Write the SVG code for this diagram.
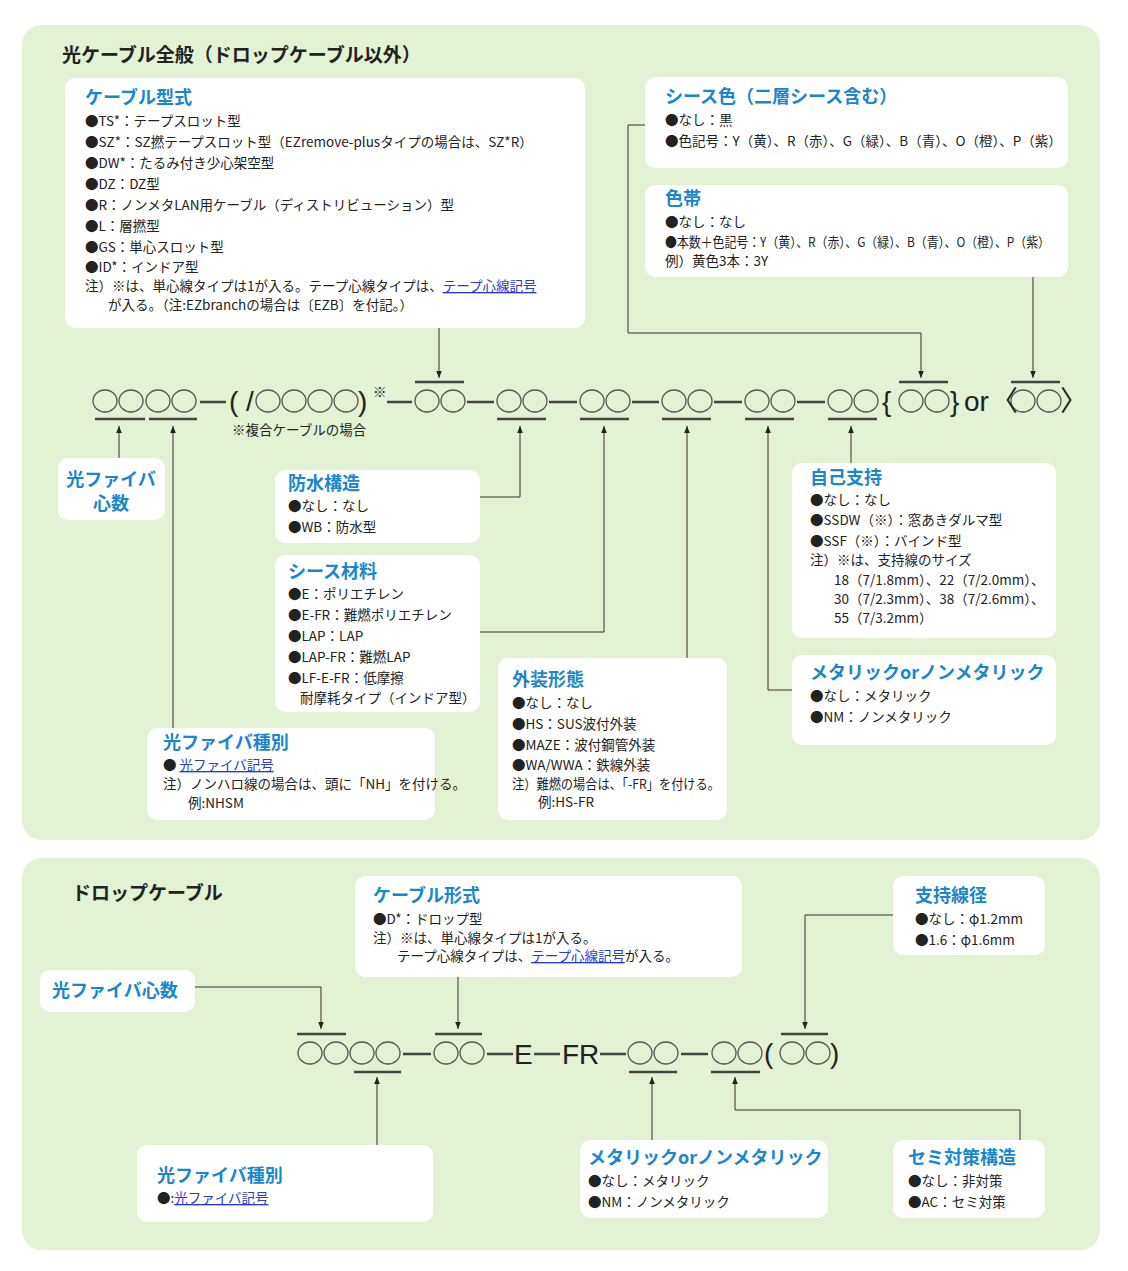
<svg xmlns="http://www.w3.org/2000/svg" width="1128" height="1271" viewBox="0 0 1128 1271">
<defs>
<style>
.panel{fill:#e3f1d4}
.box{fill:#fff}
.h{font-family:"Noto Sans CJK JP","Noto Sans",sans-serif;font-weight:bold;font-size:18px;fill:#1a86cc}
.t{font-family:"Noto Sans CJK JP","Noto Sans",sans-serif;font-size:13.5px;fill:#222}
.lk{fill:#2a3ad0;text-decoration:underline}
.ti{font-family:"Noto Sans CJK JP","Noto Sans",sans-serif;font-weight:bold;font-size:19px;fill:#222}
.c{fill:none;stroke:#555;stroke-width:1.3}
.bar{stroke:#444;stroke-width:2.5}
.sym{font-family:"Liberation Sans","Noto Sans CJK JP",sans-serif;font-size:28px;fill:#222}
.ln{fill:none;stroke:#333;stroke-width:1}
</style>
<marker id="ar" viewBox="0 0 10 10" refX="10" refY="5" markerWidth="7" markerHeight="9" orient="auto"><path d="M0,1 L10,5 L0,9 z" fill="#222"/></marker>
</defs>
<rect class="panel" x="22" y="25" width="1078" height="815" rx="20"/>
<rect class="panel" x="22" y="858" width="1078" height="392" rx="20"/>
<text class="ti" x="62" y="62">光ケーブル全般（ドロップケーブル以外）</text>
<text class="ti" x="72" y="900">ドロップケーブル</text>

<g id="cable-type"><rect class="box" x="65" y="78" width="520" height="250" rx="10"/>
<text class="h" x="85" y="104">ケーブル型式</text>
<text class="t" x="85" y="126">●TS*：テープスロット型</text>
<text class="t" x="85" y="147">●SZ*：SZ撚テープスロット型（EZremove-plusタイプの場合は、SZ*R）</text>
<text class="t" x="85" y="168">●DW*：たるみ付き少心架空型</text>
<text class="t" x="85" y="189">●DZ：DZ型</text>
<text class="t" x="85" y="210">●R：ノンメタLAN用ケーブル（ディストリビューション）型</text>
<text class="t" x="85" y="231">●L：層撚型</text>
<text class="t" x="85" y="252">●GS：単心スロット型</text>
<text class="t" x="85" y="272">●ID*：インドア型</text>
<text class="t" x="85" y="291" font-size="12">注）※は、単心線タイプは1が入る。テープ心線タイプは、<tspan class="lk">テープ心線記号</tspan></text>
<text class="t" x="108" y="310" font-size="12">が入る。（注:EZbranchの場合は〔EZB〕を付記。）</text></g>

<g id="sheath-color"><rect class="box" x="645" y="77" width="423" height="91" rx="10"/>
<text class="h" x="665" y="103">シース色（二層シース含む）</text>
<text class="t" x="665" y="125">●なし：黒</text>
<text class="t" x="665" y="146">●色記号：Y（黄）、R（赤）、G（緑）、B（青）、O（橙）、P（紫）</text></g>

<g id="color-band"><rect class="box" x="645" y="185" width="423" height="92" rx="10"/>
<text class="h" x="665" y="205">色帯</text>
<text class="t" x="665" y="227">●なし：なし</text>
<text class="t" x="665" y="247" textLength="385" lengthAdjust="spacingAndGlyphs">●本数＋色記号：Y（黄）、R（赤）、G（緑）、B（青）、O（橙）、P（紫）</text>
<text class="t" x="665" y="266">例）黄色3本：3Y</text></g>

<g id="fiber-count"><rect class="box" x="58" y="458" width="107" height="62" rx="10"/>
<text class="h" x="111" y="486" text-anchor="middle">光ファイバ</text>
<text class="h" x="111" y="510" text-anchor="middle">心数</text></g>

<g id="waterproof"><rect class="box" x="275" y="470" width="205" height="73" rx="10"/>
<text class="h" x="288" y="490">防水構造</text>
<text class="t" x="288" y="511">●なし：なし</text>
<text class="t" x="288" y="532">●WB：防水型</text></g>

<g id="sheath-material"><rect class="box" x="275" y="555" width="205" height="157" rx="10"/>
<text class="h" x="288" y="578">シース材料</text>
<text class="t" x="288" y="599">●E：ポリエチレン</text>
<text class="t" x="288" y="620">●E-FR：難燃ポリエチレン</text>
<text class="t" x="288" y="641">●LAP：LAP</text>
<text class="t" x="288" y="662">●LAP-FR：難燃LAP</text>
<text class="t" x="288" y="683">●LF-E-FR：低摩擦</text>
<text class="t" x="300" y="703">耐摩耗タイプ（インドア型）</text></g>

<g id="fiber-type"><rect class="box" x="147" y="728" width="288" height="92" rx="10"/>
<text class="h" x="163" y="749">光ファイバ種別</text>
<text class="t" x="163" y="770">● <tspan class="lk">光ファイバ記号</tspan></text>
<text class="t" x="163" y="789" font-size="12.5">注）ノンハロ線の場合は、頭に「NH」を付ける。</text>
<text class="t" x="188" y="808" font-size="12.5">例:NHSM</text></g>

<g id="armor"><rect class="box" x="498" y="658" width="229" height="162" rx="10"/>
<text class="h" x="512" y="686">外装形態</text>
<text class="t" x="512" y="708">●なし：なし</text>
<text class="t" x="512" y="729">●HS：SUS波付外装</text>
<text class="t" x="512" y="750">●MAZE：波付鋼管外装</text>
<text class="t" x="512" y="770">●WA/WWA：鉄線外装</text>
<text class="t" x="512" y="789" font-size="12.5" textLength="208" lengthAdjust="spacingAndGlyphs">注）難燃の場合は、「-FR」を付ける。</text>
<text class="t" x="538" y="807" font-size="12.5">例:HS-FR</text></g>

<g id="self-support"><rect class="box" x="792" y="463" width="264" height="175" rx="10"/>
<text class="h" x="810" y="484">自己支持</text>
<text class="t" x="810" y="505">●なし：なし</text>
<text class="t" x="810" y="525">●SSDW（※）：窓あきダルマ型</text>
<text class="t" x="810" y="546">●SSF（※）：バインド型</text>
<text class="t" x="810" y="565" font-size="12.5">注）※は、支持線のサイズ</text>
<text class="t" x="834" y="585" font-size="12.5">18（7/1.8mm）、22（7/2.0mm）、</text>
<text class="t" x="834" y="604" font-size="12.5">30（7/2.3mm）、38（7/2.6mm）、</text>
<text class="t" x="834" y="623" font-size="12.5">55（7/3.2mm）</text></g>

<g id="metallic"><rect class="box" x="792" y="655" width="264" height="90" rx="10"/>
<text class="h" x="810" y="679">メタリックorノンメタリック</text>
<text class="t" x="810" y="701">●なし：メタリック</text>
<text class="t" x="810" y="722">●NM：ノンメタリック</text></g>

<g id="drop-cable-type"><rect class="box" x="355" y="876" width="387" height="101" rx="10"/>
<text class="h" x="373" y="902">ケーブル形式</text>
<text class="t" x="373" y="924">●D*：ドロップ型</text>
<text class="t" x="373" y="943" font-size="12.5">注）※は、単心線タイプは1が入る。</text>
<text class="t" x="397" y="961" font-size="12.5">テープ心線タイプは、<tspan class="lk">テープ心線記号</tspan>が入る。</text></g>

<g id="support-wire"><rect class="box" x="893" y="876" width="152" height="79" rx="10"/>
<text class="h" x="915" y="902">支持線径</text>
<text class="t" x="915" y="924">●なし：φ1.2mm</text>
<text class="t" x="915" y="945">●1.6：φ1.6mm</text></g>

<g id="drop-fiber-count"><rect class="box" x="40" y="970" width="155" height="42" rx="10"/>
<text class="h" x="52" y="997">光ファイバ心数</text></g>

<g id="drop-fiber-type"><rect class="box" x="137" y="1145" width="296" height="77" rx="10"/>
<text class="h" x="157" y="1182">光ファイバ種別</text>
<text class="t" x="157" y="1203">●:<tspan class="lk">光ファイバ記号</tspan></text></g>

<g id="drop-metallic"><rect class="box" x="580" y="1140" width="248" height="78" rx="10"/>
<text class="h" x="588" y="1164">メタリックorノンメタリック</text>
<text class="t" x="588" y="1186">●なし：メタリック</text>
<text class="t" x="588" y="1207">●NM：ノンメタリック</text></g>

<g id="semi"><rect class="box" x="893" y="1140" width="152" height="78" rx="10"/>
<text class="h" x="908" y="1164">セミ対策構造</text>
<text class="t" x="908" y="1186">●なし：非対策</text>
<text class="t" x="908" y="1207">●AC：セミ対策</text></g>

<g id="code-top">
<g class="c"><ellipse cx="105" cy="401" rx="12" ry="11"/><ellipse cx="131" cy="401" rx="12" ry="11"/><ellipse cx="158" cy="401" rx="12" ry="11"/><ellipse cx="184" cy="401" rx="12" ry="11"/>
<ellipse cx="268" cy="401" rx="12" ry="11"/><ellipse cx="294" cy="401" rx="12" ry="11"/><ellipse cx="320" cy="401" rx="12" ry="11"/><ellipse cx="346" cy="401" rx="12" ry="11"/>
<ellipse cx="427" cy="401" rx="12" ry="11"/><ellipse cx="453" cy="401" rx="12" ry="11"/>
<ellipse cx="509" cy="401" rx="12" ry="11"/><ellipse cx="535" cy="401" rx="12" ry="11"/>
<ellipse cx="592" cy="401" rx="12" ry="11"/><ellipse cx="618" cy="401" rx="12" ry="11"/>
<ellipse cx="674" cy="401" rx="12" ry="11"/><ellipse cx="700" cy="401" rx="12" ry="11"/>
<ellipse cx="757" cy="401" rx="12" ry="11"/><ellipse cx="783" cy="401" rx="12" ry="11"/>
<ellipse cx="840" cy="401" rx="12" ry="11"/><ellipse cx="866" cy="401" rx="12" ry="11"/>
<ellipse cx="911" cy="401" rx="12" ry="11"/><ellipse cx="937" cy="401" rx="12" ry="11"/>
<ellipse cx="1023" cy="401" rx="12" ry="11"/><ellipse cx="1049" cy="401" rx="12" ry="11"/></g>
<g class="bar"><line x1="95" y1="419" x2="145" y2="419"/><line x1="149" y1="419" x2="197" y2="419"/>
<line x1="415" y1="382" x2="464" y2="382"/>
<line x1="497" y1="419" x2="546" y2="419"/><line x1="580" y1="419" x2="629" y2="419"/><line x1="662" y1="419" x2="711" y2="419"/><line x1="745" y1="419" x2="794" y2="419"/><line x1="828" y1="419" x2="877" y2="419"/>
<line x1="899" y1="382" x2="948" y2="382"/><line x1="1011" y1="382" x2="1060" y2="382"/>
<line x1="200" y1="402" x2="226" y2="402"/><line x1="387" y1="402" x2="412" y2="402"/><line x1="467" y1="402" x2="494" y2="402"/><line x1="549" y1="402" x2="577" y2="402"/><line x1="632" y1="402" x2="659" y2="402"/><line x1="714" y1="402" x2="742" y2="402"/><line x1="797" y1="402" x2="825" y2="402"/></g>
<text class="sym" x="229" y="411">(</text><text class="sym" x="246" y="411">/</text><text class="sym" x="358" y="411">)</text>
<text class="t" x="373" y="397" font-size="11">※</text>
<text class="sym" x="882" y="411">{</text><text class="sym" x="950" y="411">}</text><text class="sym" x="964" y="411">or</text>
<text class="sym" x="990" y="411" font-family="Noto Sans CJK JP">〈</text><text class="sym" x="1060" y="411" font-family="Noto Sans CJK JP">〉</text>
<text class="t" x="232" y="435" font-size="12.5">※複合ケーブルの場合</text>
</g>

<g id="code-drop">
<g class="c"><ellipse cx="310" cy="1053" rx="12" ry="11"/><ellipse cx="336" cy="1053" rx="12" ry="11"/><ellipse cx="362" cy="1053" rx="12" ry="11"/><ellipse cx="388" cy="1053" rx="12" ry="11"/>
<ellipse cx="446" cy="1053" rx="12" ry="11"/><ellipse cx="472" cy="1053" rx="12" ry="11"/>
<ellipse cx="640" cy="1053" rx="12" ry="11"/><ellipse cx="666" cy="1053" rx="12" ry="11"/>
<ellipse cx="724" cy="1053" rx="12" ry="11"/><ellipse cx="750" cy="1053" rx="12" ry="11"/>
<ellipse cx="792" cy="1053" rx="12" ry="11"/><ellipse cx="818" cy="1053" rx="12" ry="11"/></g>
<g class="bar"><line x1="297" y1="1034" x2="346" y2="1034"/><line x1="354" y1="1072" x2="401" y2="1072"/>
<line x1="435" y1="1034" x2="482" y2="1034"/><line x1="629" y1="1072" x2="677" y2="1072"/><line x1="711" y1="1072" x2="760" y2="1072"/><line x1="781" y1="1034" x2="828" y2="1034"/>
<line x1="403" y1="1054" x2="431" y2="1054"/><line x1="487" y1="1054" x2="513" y2="1054"/><line x1="534" y1="1054" x2="560" y2="1054"/><line x1="600" y1="1054" x2="626" y2="1054"/><line x1="681" y1="1054" x2="708" y2="1054"/></g>
<text class="sym" x="514" y="1064" font-size="27">E</text><text class="sym" x="562" y="1064" font-size="27">FR</text>
<text class="sym" x="764" y="1063">(</text><text class="sym" x="830" y="1063">)</text>
</g>

<g id="connectors" class="ln" marker-end="url(#ar)">
<path d="M439,328 V378"/>
<path d="M645,125 H628 V333 H921 V378"/>
<path d="M1033,277 V378"/>
<path d="M119,458 V426"/>
<path d="M173,728 V426"/>
<path d="M480,497 H520 V426"/>
<path d="M480,632 H604 V426"/>
<path d="M687,658 V426"/>
<path d="M792,690 H768 V426"/>
<path d="M851,463 V426"/>
<path d="M195,987 H321 V1029"/>
<path d="M458,977 V1029"/>
<path d="M893,915 H805 V1029"/>
<path d="M377,1145 V1077"/>
<path d="M652,1140 V1077"/>
<path d="M1020,1140 V1110 H735 V1077"/>
</g>
</svg>
